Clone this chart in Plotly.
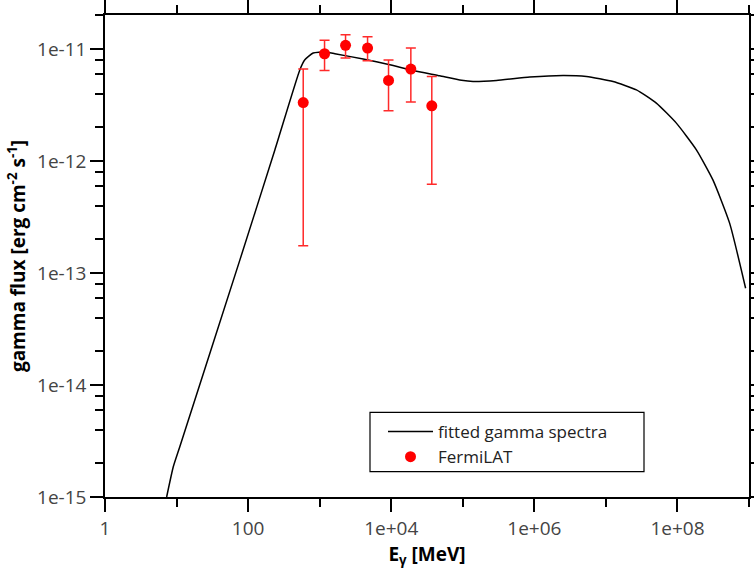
import plotly.graph_objects as go

# fitted gamma spectrum
curve_E = [7.27, 9.0, 11.1, 76.8, 237, 529, 621, 811, 1183, 1630, 4050, 9550,
           2.02e4, 4.77e4, 9.6e4, 1.39e5, 2.96e5, 8.63e5, 2.52e6, 5.35e6,
           1.26e7, 2.67e7, 5.07e7, 9.66e7, 1.84e8, 3.13e8, 5.36e8, 8.97e8]
curve_F = [1.0e-15, 1.86e-15, 2.81e-15, 1.31e-13, 1.26e-12, 6.53e-12, 8.02e-12,
           9.21e-12, 9.40e-12, 9.08e-12, 8.15e-12, 7.24e-12, 6.44e-12, 5.77e-12,
           5.26e-12, 5.13e-12, 5.24e-12, 5.62e-12, 5.81e-12, 5.69e-12, 5.13e-12,
           4.32e-12, 3.29e-12, 2.18e-12, 1.26e-12, 6.79e-13, 2.79e-13, 7.31e-14]

# FermiLAT points
fermi_E = [589, 1170, 2300, 4670, 9170, 1.88e4, 3.69e4]
fermi_F = [3.33e-12, 9.08e-12, 1.08e-11, 1.02e-11, 5.24e-12, 6.62e-12, 3.11e-12]
fermi_hi = [6.62e-12, 1.20e-11, 1.34e-11, 1.29e-11, 7.98e-12, 1.02e-11, 5.69e-12]
fermi_lo = [1.75e-13, 6.44e-12, 8.31e-12, 7.86e-12, 2.81e-12, 3.36e-12, 6.19e-13]

x_major = [1, 100, 1e4, 1e6, 1e8]
x_major_text = ["1", "100", "1e+04", "1e+06", "1e+08"]
x_minor = [10, 1e3, 1e5, 1e7, 1e9]
y_major = [1e-15, 1e-14, 1e-13, 1e-12, 1e-11]
y_major_text = ["1e-15", "1e-14", "1e-13", "1e-12", "1e-11"]
y_minor = [m * 10.0 ** e for e in range(-15, -10) for m in (2, 4, 6, 8)]

err_plus = [h - f for h, f in zip(fermi_hi, fermi_F)]
err_minus = [f - l for f, l in zip(fermi_F, fermi_lo)]

FONT = "Open Sans, Liberation Sans, sans-serif"

W, H = 754, 575
ML, MR, MT, MB = 105, 5, 15, 78
PW, PH = W - ML - MR, H - MT - MB


def px_x(p):
    return (p - ML) / PW


def px_y(p):
    return (H - MB - p) / PH


fig = go.Figure()
fig.add_trace(go.Scatter(
    x=curve_E, y=curve_F, mode="lines", name="fitted gamma spectra",
    line=dict(color="black", width=1.5, shape="spline", smoothing=0.5),
))
fig.add_trace(go.Scatter(
    x=fermi_E, y=fermi_F, mode="markers", name="FermiLAT",
    marker=dict(color="#ff0000", size=11),
    error_y=dict(type="data", symmetric=False, array=err_plus,
                 arrayminus=err_minus, color="#ff2a2a", thickness=1.5, width=5),
))

axis_common = dict(
    type="log", showgrid=False, zeroline=False, showline=True,
    linecolor="black", linewidth=1.5, mirror="allticks",
    ticks="outside", ticklen=13, tickwidth=1.5, tickcolor="black",
    tickfont=dict(family=FONT, size=19, color="#444444"),
    automargin=False,
)

fig.update_xaxes(
    **axis_common, range=[0, 9], tickmode="array",
    tickvals=x_major, ticktext=x_major_text,
    minor=dict(tickmode="array", tickvals=x_minor, ticks="outside",
               ticklen=8, tickwidth=1.5, tickcolor="black"),
    title=dict(text="E<sub>γ</sub> [MeV]",
               font=dict(family=FONT, size=19, color="black", weight="bold"),
               standoff=6),
)
fig.update_yaxes(
    **axis_common, range=[-15, -10.696], tickmode="array",
    tickvals=y_major, ticktext=y_major_text,
    minor=dict(tickmode="array", tickvals=y_minor, ticks="outside",
               ticklen=8, tickwidth=1.5, tickcolor="black"),
    title=dict(text="gamma flux [erg cm<sup>-2</sup> s<sup>-1</sup>]",
               font=dict(family=FONT, size=19, color="black", weight="bold"),
               standoff=6),
)

# legend frame
fig.add_shape(type="rect", xref="paper", yref="paper",
              x0=px_x(370), x1=px_x(644), y0=px_y(471.7), y1=px_y(412.3),
              line=dict(color="black", width=1.2), fillcolor="rgba(0,0,0,0)")

fig.update_layout(
    width=W, height=H,
    margin=dict(l=ML, r=MR, t=MT, b=MB, autoexpand=False),
    paper_bgcolor="white", plot_bgcolor="white",
    showlegend=True,
    legend=dict(x=px_x(383), y=px_y(414),
                xanchor="left", yanchor="top",
                bgcolor="rgba(0,0,0,0)", borderwidth=0,
                font=dict(family=FONT, size=17, color="#222222"),
                itemwidth=45, tracegroupgap=0),
)

fig.write_html(
    "out.html",
    config={"displayModeBar": False},
    post_script="document.body.style.margin='0';"
                "document.body.style.overflow='hidden';",
)
